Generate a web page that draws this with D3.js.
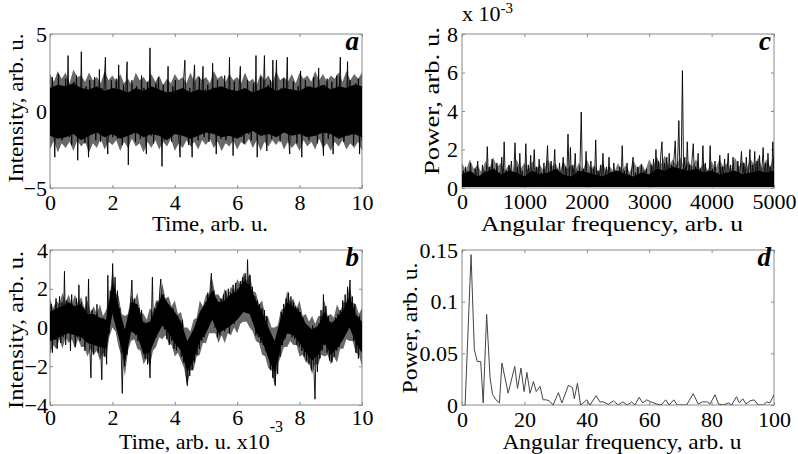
<!DOCTYPE html>
<html>
<head>
<meta charset="utf-8">
<script src="https://cdn.jsdelivr.net/npm/d3@7"></script>
<style>
body { margin: 0; background: #fff; }
svg text { font-family: "Liberation Serif", "Times New Roman", serif; fill: #000; }
</style>
</head>
<body>
<div id="chart"></div>
<script>
// Panel a : intensity vs time, 0..10
var aIntensity = [
  0.4, -1.6, 2.2, -0.9, -3.0, 1.4, -1.2, 2.4, -0.3, 1.1, -1.9, 0.8, -1.4, 2.1, -0.6, 3.6, -1.7, 1.3, -2.2, 0.5, 1.9, -1.1, 2.3, -3.2, 0.7, -1.3,
  3.85, -1.4, 1.0, -2.1, 1.6, -0.8, -3.0, 2.0, -1.5, 1.2, -0.4, 2.2, -1.9, 0.6, -1.2, 2.7, -2.0, 1.5, -0.7, 1.8, 3.5, -1.6, -2.8, 1.1, -1.0, 2.0,
  -1.7, 1.3, -0.6, 2.1, -1.8, 3.0, -1.2, 0.9, -2.2, 1.7, -0.5, 1.4, 3.2, -3.5, 0.8, -1.5, 2.0, -0.9, 1.2, -2.0, 1.6, -1.3, 0.5, -1.8, 2.3, -0.7,
  1.5, -1.1, -2.8, 1.9, -0.8, 4.1, -1.6, 1.0, -2.1, 0.6, 1.8, -1.4, 2.2, -1.0, 0.4, -3.6, 1.7, -1.9, 1.2, -0.6, 2.9, -1.5, 0.9, -2.0, 1.6, -1.2,
  2.0, -0.7, 1.3, -1.8, -3.0, 1.1, -1.3, 2.1, 3.3, -1.6, 0.8, -2.2, 1.5, -0.9, -3.0, 1.8, 3.0, -1.4, 0.6, -1.9, 2.2, -1.1, 1.0, 2.9, -1.7, 1.4,
  -0.9, 1.7, -2.0, 0.8, -1.3, 3.1, -1.5, 1.2, -2.8, 2.0, -0.6, 1.5, -1.8, 0.9, -1.1, 2.3, -1.9, 1.3, -0.5, 3.5, -1.6, 1.1, -2.9, 1.9, -1.0, 0.7,
  -1.4, 1.6, 2.9, -1.7, 0.9, -2.1, 1.4, -0.8, 2.0, -1.5, 1.1, -1.9, 0.6, 1.8, -1.2, 3.6, -3.0, 1.3, -0.7, 2.2, -1.6, 1.0, 3.6, -1.3, -2.6, 1.7,
  -1.1, 2.0, -1.8, 3.3, -0.9, 1.2, 3.3, -1.6, 0.8, -2.0, 1.5, -1.2, 2.1, -0.6, 1.0, 3.5, -1.7, -2.8, 1.4, -1.0, 1.9, -1.5, 0.7, -2.1, 1.6, -0.8,
  2.6, -3.0, 1.3, -1.4, 2.0, -0.7, 1.1, -1.9, 1.6, -1.2, 0.5, 2.2, -1.6, 1.0, -2.1, 2.8, -0.9, 1.4, -1.3, -2.9, 1.7, -0.6, 2.1, -1.8, 0.8, -1.5,
  1.9, -2.8, 1.2, -1.0, 2.3, -1.7, 0.9, 3.5, -1.4, 1.5, -2.0, 1.1, -0.8, 3.2, -1.6, 2.0, -1.2, 1.3, -2.2, 0.7, 1.8, -1.5, 2.1, -2.8, 1.6, -1.9
];
// dense black core of panel a, read every 0.25 time units
var aCoreHi = [1.5, 1.7, 1.6, 1.8, 1.5, 1.4, 1.6, 1.3, 1.5, 1.4, 1.2, 1.5, 1.3, 1.6, 1.4, 1.2, 1.3, 1.5, 1.2, 1.4, 1.3,
  1.5, 1.6, 1.4, 1.3, 1.5, 1.2, 1.4, 1.6, 1.3, 1.5, 1.4, 1.3, 1.6, 1.5, 1.7, 1.4, 1.6, 1.5, 1.7, 1.6];
var aCoreLo = [-1.6, -1.8, -1.7, -1.5, -1.9, -1.6, -1.4, -1.7, -1.5, -1.8, -1.6, -1.4, -1.7, -1.5, -1.6, -1.9, -1.5, -1.6, -1.8, -1.6, -1.4,
  -1.5, -1.7, -1.6, -1.8, -1.5, -1.3, -1.6, -1.5, -1.7, -1.4, -1.6, -1.5, -1.7, -1.6, -1.4, -1.5, -1.8, -1.6, -1.5, -1.7];
// grey fringe of panel a, read every 0.125 time units
var aFringeHi = [
  2.4, 1.9, 2.6, 2.1, 2.5, 1.8, 2.7, 2.2, 2.3, 1.9, 2.5, 2.0, 2.2, 1.8, 2.6, 2.0,
  2.3, 1.9, 2.4, 1.8, 2.1, 1.7, 2.5, 2.0, 2.2, 1.8, 2.4, 1.9, 2.3, 1.7, 2.1, 1.8,
  2.4, 2.0, 2.2, 1.8, 2.5, 1.9, 2.3, 2.0, 2.2, 1.8, 2.6, 2.1, 2.3, 1.9, 2.4, 2.0,
  2.2, 1.8, 2.5, 1.9, 2.1, 1.7, 2.4, 2.0, 2.3, 1.8, 2.6, 2.0, 2.2, 1.9, 2.4, 1.8,
  2.5, 2.1, 2.3, 1.9, 2.6, 2.0, 2.4, 1.9, 2.3, 2.1, 2.5, 1.9, 2.6, 2.0, 2.4, 2.1, 2.5];
var aFringeLo = [
  -2.5, -1.9, -2.7, -2.1, -2.4, -2.0, -2.6, -1.9, -2.3, -2.0, -2.7, -2.1, -2.4, -1.8, -2.5, -2.0,
  -2.2, -1.9, -2.6, -2.0, -2.4, -1.8, -2.3, -2.1, -2.7, -2.0, -2.4, -1.9, -2.5, -2.0, -2.3, -1.8,
  -2.6, -2.1, -2.4, -1.9, -2.3, -2.0, -2.5, -1.9, -2.2, -1.8, -2.4, -2.0, -2.6, -2.1, -2.3, -1.9,
  -2.5, -2.0, -2.2, -1.8, -2.4, -1.9, -2.6, -2.0, -2.3, -1.9, -2.2, -1.8, -2.5, -2.0, -2.4, -2.1,
  -2.6, -1.9, -2.3, -2.0, -2.5, -1.8, -2.4, -2.1, -2.6, -2.0, -2.3, -1.9, -2.5, -2.1, -2.4, -2.0, -2.6];

// Panel b : intensity vs time, 0..10 (x10^-3)
var bIntensity = [
  -0.6, 1.2, -1.3, 0.9, -0.4, 1.5, -1.1, 0.7, 1.6, -0.8, 1.3, -0.5, 2.9, -0.9, 1.4, -0.2, 1.1, -1.2, 1.7, -0.3, 0.9, -1.0, 1.5, -0.5, 2.2, -0.7,
  1.3, -0.4, 0.8, -1.2, 1.6, -0.6, 2.5, -1.0, -2.6, 0.9, -1.4, 0.6, -0.8, 1.2, -1.3, 0.4, -1.0, -2.7, 0.5, -1.5, 0.2, -1.9, 2.7, -0.3, 1.9, 0.6,
  3.3, 1.1, 2.6, 0.8, 1.9, 0.2, 1.0, -1.1, -3.4, -0.6, -2.0, -0.2, -1.4, 0.6, -0.5, 1.4, 2.45, 0.1, 1.5, -0.4, 1.2, -0.7, 1.0, -0.8, 0.9, -0.9,
  0.3, -1.6, 0.2, -1.9, -0.4, -2.6, -0.1, 2.6, -0.7, 1.0, -0.5, 1.3, 0.1, 1.8, 2.5, 0.2, 1.7, -0.1, 1.4, -0.6, 1.2, -0.9, 0.8, -0.7, 1.0, -1.1,
  0.5, -1.2, 0.6, -1.0, 0.3, -1.5, 0.4, -1.8, -0.5, -2.4, -3.0, -1.0, -2.5, -0.8, -2.2, -0.4, -1.8, 0.1, -1.4, 0.3, -1.1, 0.6, -0.7, 1.0, -0.5, 1.3,
  0.2, 1.8, 0.3, 2.1, 2.8, 0.6, 1.9, 0.0, 1.4, -0.5, 1.2, -0.4, 1.5, -0.1, 1.7, -0.2, 1.9, 0.1, 2.0, -0.3, 1.8, 0.4, 2.2, 0.2, 2.3, 0.5,
  2.0, 0.6, 2.4, 0.9, 2.6, 1.0, 2.8, 1.2, 3.5, 1.1, 2.7, 0.7, 2.1, 0.2, 1.6, -0.4, 1.4, -0.5, 1.2, -0.8, 1.0, -0.9, 0.9, -1.2, 0.6, -1.4,
  -0.6, -2.2, -1.0, -2.6, -1.3, -3.0, -0.9, -2.4, -0.2, -1.5, 0.8, -0.9, 1.2, -0.6, 1.5, -0.3, 1.8, -0.2, 1.6, -0.5, 1.3, -0.6, 1.1, -0.9, 1.0, -1.0,
  0.8, -1.2, 0.5, -1.5, 0.2, -1.7, 0.0, -1.9, -0.3, -2.2, 0.1, -2.0, -3.7, -0.6, -2.3, 0.2, -1.6, 0.9, -1.2, 1.7, -0.9, 1.1, -1.3, 0.6, -1.7, 0.3,
  -1.8, 0.2, -1.5, 0.5, -1.2, 0.7, -1.0, 0.9, -0.6, 1.4, -0.2, 1.7, 0.1, 2.1, 0.3, 2.45, -0.1, 1.6, -0.7, 1.2, -1.3, 0.4, -1.6, 0.6, -1.2, 0.0
];
// dense black core of panel b, read every 0.2 time units
var bCoreHi = [0.8, 1.0, 1.1, 1.3, 1.1, 1.2, 0.7, 0.7, 0.5, 0.4, 2.3, 1.1, -0.1, 1.3, 1.2, 0.2, 0.3, 1.0, 1.7, 1.2, 0.8, 0.3, -0.7, -0.1, 0.8,
  1.3, 1.9, 1.3, 1.4, 1.7, 1.9, 2.4, 2.2, 1.4, 0.8, 0.0, -0.7, 0.5, 1.3, 1.1, 0.8, 0.2, -0.1, 0.1, 0.8, 0.2, 0.5, 0.9, 1.6, 0.7, 0.3];
var bCoreLo = [-0.7, -0.6, -0.4, -0.3, -0.4, -0.5, -0.8, -0.9, -1.0, -1.1, 0.7, -0.5, -1.8, -0.2, -0.4, -1.4, -1.3, -0.5, 0.1, -0.3, -0.8, -1.2, -2.3, -1.7, -0.7,
  -0.3, 0.4, -0.3, -0.1, 0.1, 0.4, 0.8, 0.7, -0.2, -0.7, -1.6, -2.3, -1.0, -0.3, -0.4, -0.8, -1.3, -1.7, -1.4, -0.8, -1.4, -1.1, -0.6, 0.0, -0.8, -1.3];
// grey fringe of panel b, read every 0.1 time units
var bFringeHi = [
  1.5, 1.0, 1.4, 1.2, 1.8, 1.3, 1.7, 1.2, 1.7, 1.2, 1.6, 1.0, 1.4, 0.8, 1.1, 0.7, 1.2, 0.6, 0.9, 1.4,
  2.9, 1.8, 1.6, 0.7, 0.6, 0.7, 1.7, 1.3, 1.8, 0.8, 0.7, 0.4, 1.0, 0.8, 1.4, 1.4, 2.3, 1.5, 1.6, 1.1,
  1.4, 0.7, 0.8, 0.0, 0.0, -0.2, 0.4, 0.5, 1.4, 1.1, 1.7, 1.7, 2.5, 1.7, 1.7, 1.4, 2.0, 1.6, 2.1, 1.9,
  2.5, 2.2, 2.8, 2.4, 2.8, 1.9, 1.8, 1.2, 1.4, 0.6, 0.5, 0.0, 0.0, 0.1, 0.9, 1.0, 1.9, 1.3, 1.5, 1.0,
  1.4, 0.6, 0.7, 0.3, 0.6, 0.2, 0.6, 0.6, 1.4, 0.6, 0.7, 0.5, 1.2, 0.8, 1.3, 1.3, 2.2, 1.3, 1.2, 0.7, 1.0];
var bFringeLo = [
  -1.4, -0.9, -1.1, -0.6, -1.1, -0.5, -0.8, -0.6, -1.1, -0.6, -1.0, -1.0, -1.5, -1.1, -1.4, -1.2, -1.7, -1.3, -1.6, -0.5,
  0.0, -0.2, -1.0, -1.5, -2.5, -1.2, -0.7, -0.6, -1.1, -1.2, -1.9, -1.6, -2.0, -1.2, -1.0, -0.5, -0.6, -0.4, -0.8, -0.9,
  -1.5, -1.3, -1.7, -2.1, -3.0, -2.2, -2.2, -1.5, -1.4, -0.8, -0.8, -0.3, -0.3, -0.3, -0.8, -0.4, -0.8, -0.3, -0.4, 0.0,
  -0.3, 0.2, 0.3, 0.3, 0.0, -0.2, -0.7, -0.8, -1.4, -1.5, -2.1, -2.2, -3.0, -1.9, -1.5, -1.0, -1.0, -0.7, -0.9, -0.9,
  -1.5, -1.4, -1.8, -1.8, -2.4, -1.9, -1.9, -1.4, -1.5, -1.4, -1.9, -1.5, -1.8, -1.1, -1.1, -0.6, -0.7, -0.7, -1.3, -1.4, -2.0];

// Panel c : power (x10^-3) vs angular frequency, 0..5000
var cPower = [
  0.2, 0.9, 0.1, 1.1, 0.3, 0.7, 0.05, 1.3, 0.4, 0.8, 0.1, 1.0, 0.3, 1.4, 0.2, 0.6, 0.1, 1.2, 0.5, 0.9, 0.2, 2.15, 0.3, 1.1, 0.1, 1.5,
  0.4, 1.0, 0.2, 1.3, 0.1, 0.8, 0.5, 1.6, 0.2, 2.4, 0.3, 0.9, 0.1, 1.2, 0.6, 1.4, 0.2, 0.7, 2.35, 0.4, 1.1, 0.1, 1.8, 0.3, 0.9, 0.2,
  0.5, 2.3, 0.2, 1.2, 0.4, 1.7, 0.1, 0.9, 2.0, 0.3, 1.1, 0.2, 1.5, 0.6, 0.8, 0.1, 1.3, 0.4, 1.0, 2.2, 0.2, 0.7, 1.4, 0.3, 0.9, 2.0,
  0.1, 1.0, 0.4, 1.3, 0.2, 0.8, 1.6, 0.1, 1.1, 0.5, 2.8, 0.3, 2.1, 0.2, 1.2, 0.6, 1.8, 0.1, 0.9, 0.4, 1.3, 3.95, 0.2, 1.0, 0.5, 1.9,
  0.1, 0.8, 0.3, 1.4, 0.2, 1.0, 0.4, 2.5, 0.1, 0.9, 0.5, 1.2, 0.2, 1.8, 0.3, 0.7, 1.1, 0.1, 1.6, 0.4, 0.8, 0.2, 1.3, 0.5, 0.9, 0.1,
  0.6, 1.1, 0.2, 2.2, 0.3, 0.9, 0.1, 1.3, 0.4, 0.7, 0.2, 1.0, 1.6, 0.1, 0.8, 0.3, 1.1, 0.2, 0.6, 1.2, 0.1, 0.9, 0.3, 1.0, 0.2, 0.7,
  0.3, 1.2, 0.5, 1.5, 0.2, 2.0, 0.6, 1.4, 0.3, 1.7, 2.4, 0.4, 1.3, 0.7, 1.6, 0.3, 1.8, 0.5, 1.2, 0.8, 1.5, 2.45, 0.4, 1.4, 3.5, 0.6,
  1.3, 6.1, 0.5, 1.6, 0.3, 2.4, 0.7, 1.2, 0.2, 1.5, 2.3, 0.4, 1.1, 0.6, 1.8, 0.2, 1.0, 0.5, 2.2, 0.3, 1.3, 0.1, 0.9, 0.4, 2.2, 0.3,
  1.0, 0.2, 1.4, 0.5, 0.8, 0.1, 1.7, 0.3, 1.1, 0.6, 1.5, 0.2, 0.9, 1.8, 0.4, 1.2, 0.1, 1.6, 0.5, 0.8, 0.3, 1.4, 0.2, 1.0, 1.9, 0.4,
  1.3, 0.2, 1.6, 0.5, 0.9, 2.0, 0.3, 1.2, 0.6, 1.9, 0.1, 1.4, 0.4, 1.7, 0.2, 1.0, 2.1, 0.5, 1.3, 0.3, 1.8, 0.6, 1.1, 0.2, 2.4, 0.5
];
// dense black core of panel c, read every 125 frequency units
var cCoreHi = [0.7, 0.9, 0.6, 0.8, 1.0, 0.7, 0.9, 0.8, 0.6, 0.9, 0.7, 0.8, 1.0, 0.7, 0.6, 0.9, 0.8, 0.7, 0.6, 0.8, 0.9,
  0.7, 0.6, 0.8, 0.7, 1.0, 0.9, 1.1, 1.0, 0.9, 1.0, 0.8, 0.9, 0.7, 0.8, 0.9, 0.7, 0.8, 0.9, 0.8, 0.9];
// grey fringe of panel c, read every 62.5 frequency units
var cFringeHi = [
  1.3, 0.9, 1.5, 1.0, 1.2, 0.8, 1.4, 1.0, 1.6, 1.1, 1.3, 0.9, 1.2, 0.8, 1.5, 1.0,
  1.3, 0.9, 1.4, 1.0, 1.2, 0.9, 1.5, 1.1, 1.3, 0.8, 1.4, 1.0, 1.2, 0.9, 1.3, 0.9,
  1.5, 1.0, 1.2, 0.8, 1.3, 0.9, 1.1, 0.8, 1.3, 0.9, 1.2, 0.8, 1.4, 1.0, 1.3, 0.9,
  1.5, 1.1, 1.6, 1.2, 1.7, 1.1, 1.5, 1.2, 1.6, 1.0, 1.4, 1.1, 1.5, 1.0, 1.3, 0.9,
  1.4, 1.0, 1.5, 1.1, 1.3, 0.9, 1.6, 1.1, 1.4, 1.0, 1.5, 1.2, 1.6, 1.0, 1.5, 1.1, 1.7];
var cFloor = 0.05;

// Panel d : power vs angular frequency, 0..100
var dFreq = [1.0, 2.9, 3.95, 4.9, 6.0, 6.8, 7.9, 9.0, 9.8, 10.9, 12.0, 12.8, 14.8, 16.9, 17.8, 18.9, 19.9, 20.8, 21.8, 22.9,
  23.8, 25.0, 26.0, 27.0, 28.0, 29.2, 30.9, 32.0, 34.1, 35.4, 36.0, 37.0, 38.0, 40.0, 41.0, 43.0, 44.2, 45.3, 46.9, 48.5,
  50.1, 51.5, 53.0, 54.4, 55.4, 56.8, 57.9, 59.2, 60.5, 62.4, 63.8, 65.3, 66.4, 67.9, 69.0, 72.0, 74.1, 75.7, 77.1, 78.6,
  79.5, 81.1, 82.2, 83.8, 85.4, 86.4, 88.0, 88.9, 90.0, 91.0, 92.3, 93.6, 95.0, 96.6, 97.7, 98.7, 100];
var dPower = [0, 0.1455, 0.0536, 0.042, 0.042, 0.002, 0.0877, 0.026, 0.01, 0.005, 0.002, 0.0406, 0.0114, 0.0374, 0.016, 0.0357, 0.013, 0.0315, 0.0114, 0.0227,
  0.013, 0.018, 0.005, 0.005, 0.004, 0, 0.012, 0.002, 0.019, 0.017, 0.006, 0.021, 0, 0.005, 0, 0.009, 0.003, 0.003, 0.0006, 0.004,
  0, 0.003, 0, 0.003, 0, 0.0075, 0.002, 0.005, 0.003, 0.001, 0, 0.005, 0, 0.005, 0, 0, 0.011, 0.001, 0.003, 0.003,
  0.001, 0.01, 0.001, 0, 0.002, 0, 0.008, 0.002, 0.006, 0.001, 0.004, 0.005, 0, 0, 0.003, 0.002, 0.01];

// tick labels
var timeTicks = [0, 2, 4, 6, 8, 10];
var aYTicks = [-5, 0, 5];
var bYTicks = [-4, -2, 0, 2, 4];
var cXTicks = [0, 1000, 2000, 3000, 4000, 5000];
var cYTicks = [0, 2, 4, 6, 8];
var dXTicks = [0, 20, 40, 60, 80, 100];
var dYTicks = [0, 0.05, 0.1, 0.15];

var svg = d3.select("#chart").append("svg")
  .attr("width", 798)
  .attr("height", 454);

var boxColor = "#8a8a8a";
var fringeColor = "#686868";
var fontSize = 22;

function buildPanel(p) {
  var x = d3.scaleLinear().domain(p.xDomain).range([p.left, p.right]);
  var y = d3.scaleLinear().domain(p.yDomain).range([p.bottom, p.top]);
  var tl = 3;

  svg.append("clipPath").attr("id", "clip-" + p.id)
    .append("rect")
    .attr("x", p.left).attr("y", p.top)
    .attr("width", p.right - p.left).attr("height", p.bottom - p.top);

  // bottom axis with labels
  var gx = svg.append("g").attr("class", "axis").attr("transform", "translate(0," + p.bottom + ")")
    .call(d3.axisBottom(x).tickValues(p.xTicks).tickSizeInner(-tl).tickSizeOuter(0).tickFormat(p.xFormat));
  gx.selectAll("text").attr("y", p.xGap).attr("dy", "0.71em").style("font-size", fontSize + "px");

  // top axis, ticks only
  svg.append("g").attr("class", "axis").attr("transform", "translate(0," + p.top + ")")
    .call(d3.axisTop(x).tickValues(p.xTicks).tickSizeInner(-tl).tickSizeOuter(0).tickFormat(""));

  // left axis with labels
  var gy = svg.append("g").attr("class", "axis").attr("transform", "translate(" + p.left + ",0)")
    .call(d3.axisLeft(y).tickValues(p.yTicks).tickSizeInner(-tl).tickSizeOuter(0).tickFormat(p.yFormat));
  gy.selectAll("text").attr("x", -p.yGap).style("font-size", fontSize + "px");

  // right axis, ticks only
  svg.append("g").attr("class", "axis").attr("transform", "translate(" + p.right + ",0)")
    .call(d3.axisRight(y).tickValues(p.yTicks).tickSizeInner(-tl).tickSizeOuter(0).tickFormat(""));

  svg.selectAll(".axis .domain").remove();
  svg.selectAll(".axis .tick line").attr("stroke", boxColor);

  svg.append("rect")
    .attr("x", p.left).attr("y", p.top)
    .attr("width", p.right - p.left).attr("height", p.bottom - p.top)
    .attr("fill", "none")
    .attr("stroke", boxColor)
    .attr("stroke-width", 1);

  // panel letter
  svg.append("text")
    .attr("x", p.right - 3).attr("y", p.top + 16)
    .attr("text-anchor", "end")
    .style("font-size", "27px")
    .style("font-weight", "bold")
    .style("font-style", "italic")
    .text(p.id);

  return {x: x, y: y};
}

function sampleTimes(values, span) {
  var step = span / (values.length - 1);
  return values.map(function(d, i) { return i * step; });
}

// filled band where the trace is too dense to resolve
function drawBand(p, sc, span, hi, lo, color) {
  var xs = sampleTimes(hi, span);
  var area = d3.area()
    .x(function(d, i) { return sc.x(xs[i]); })
    .y0(function(d, i) { return sc.y(Array.isArray(lo) ? lo[i] : lo); })
    .y1(function(d) { return sc.y(d); });
  svg.append("path")
    .datum(hi)
    .attr("clip-path", "url(#clip-" + p.id + ")")
    .attr("fill", color)
    .attr("d", area);
}

function drawSignal(p, sc, xs, ys, color, width) {
  var line = d3.line()
    .x(function(d, i) { return sc.x(xs[i]); })
    .y(function(d) { return sc.y(d); });
  svg.append("path")
    .datum(ys)
    .attr("clip-path", "url(#clip-" + p.id + ")")
    .attr("fill", "none")
    .attr("stroke", color)
    .attr("stroke-width", width)
    .attr("stroke-linejoin", "bevel")
    .attr("d", line);
}

function yLabel(x, y, txt, len) {
  svg.append("text")
    .attr("transform", "translate(" + x + "," + y + ") rotate(-90)")
    .attr("text-anchor", "middle")
    .attr("textLength", len)
    .attr("lengthAdjust", "spacingAndGlyphs")
    .style("font-size", fontSize + "px")
    .text(txt);
}

function xLabel(x, y, txt, len) {
  svg.append("text")
    .attr("x", x).attr("y", y)
    .attr("text-anchor", "middle")
    .attr("textLength", len)
    .attr("lengthAdjust", "spacingAndGlyphs")
    .style("font-size", fontSize + "px")
    .text(txt);
}

// ---- panel a
var pa = {id: "a", left: 50, right: 362, top: 34, bottom: 188,
  xDomain: [0, 10], yDomain: [-5, 5], xTicks: timeTicks, yTicks: aYTicks,
  xFormat: d3.format("d"), yFormat: d3.format("d"), xGap: 6, yGap: 3};
var sa = buildPanel(pa);
drawBand(pa, sa, 10, aFringeHi, aFringeLo, fringeColor);
drawBand(pa, sa, 10, aCoreHi, aCoreLo, "#000");
drawSignal(pa, sa, sampleTimes(aIntensity, 10), aIntensity, "#000", 0.9);
yLabel(23, 108, "Intensity, arb. u.", 149);
xLabel(210, 231, "Time, arb. u.", 116);

// ---- panel c
var pc = {id: "c", left: 462, right: 774, top: 34, bottom: 188,
  xDomain: [0, 5000], yDomain: [0, 8], xTicks: cXTicks, yTicks: cYTicks,
  xFormat: d3.format("d"), yFormat: d3.format("d"), xGap: 5, yGap: 4};
var sc = buildPanel(pc);
drawBand(pc, sc, 5000, cFringeHi, cFloor, "#7a7a7a");
drawBand(pc, sc, 5000, cCoreHi, cFloor, "#000");
drawSignal(pc, sc, sampleTimes(cPower, 5000), cPower, "#000", 0.9);
yLabel(439, 101, "Power, arb. u.", 148);
xLabel(612, 231, "Angular frequency, arb. u", 262);
svg.append("text").attr("x", 462).attr("y", 21).style("font-size", fontSize + "px")
  .text("x 10")
  .append("tspan").attr("dy", -8).style("font-size", "15px").text("-3");

// ---- panel b
var pb = {id: "b", left: 50, right: 362, top: 250, bottom: 405,
  xDomain: [0, 10], yDomain: [-4, 4], xTicks: timeTicks, yTicks: bYTicks,
  xFormat: d3.format("d"), yFormat: d3.format("d"), xGap: 4, yGap: 2};
var sb = buildPanel(pb);
drawBand(pb, sb, 10, bFringeHi, bFringeLo, fringeColor);
drawBand(pb, sb, 10, bCoreHi, bCoreLo, "#000");
drawSignal(pb, sb, sampleTimes(bIntensity, 10), bIntensity, "#000", 0.9);
yLabel(23, 330, "Intensity, arb. u.", 158);
svg.append("text").attr("x", 119).attr("y", 449).style("font-size", fontSize + "px")
  .text("Time, arb. u. x10")
  .append("tspan").attr("dy", -17).style("font-size", "16px").text("-3");

// ---- panel d
var pd = {id: "d", left: 462, right: 774, top: 250, bottom: 405,
  xDomain: [0, 100], yDomain: [0, 0.15], xTicks: dXTicks, yTicks: dYTicks,
  xFormat: d3.format("d"), yFormat: function(d) { return d === 0 ? "0" : String(d); }, xGap: 6, yGap: 4};
var sd = buildPanel(pd);
drawSignal(pd, sd, dFreq, dPower, "#444", 1);
yLabel(417, 328, "Power, arb. u.", 131);
xLabel(622, 449, "Angular frequency, arb. u", 239);
</script>
</body>
</html>
